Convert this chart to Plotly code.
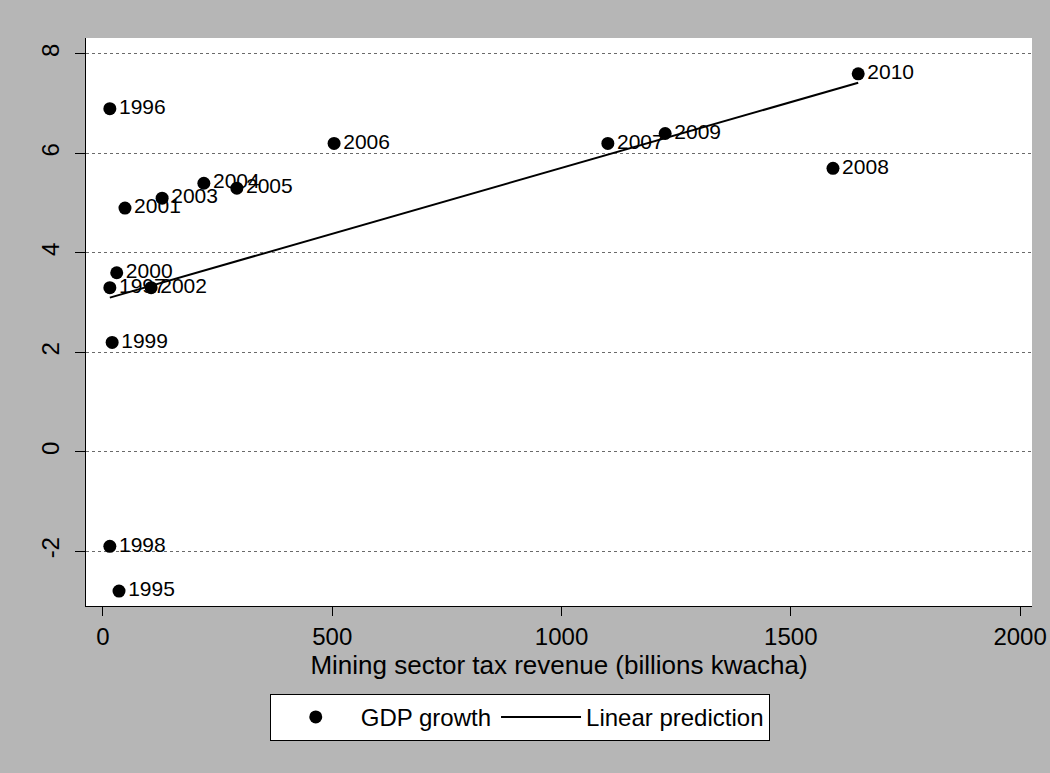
import plotly.graph_objects as go

years = ["1995", "1996", "1997", "1998", "1999", "2000", "2001", "2002",
         "2003", "2004", "2005", "2006", "2007", "2008", "2009", "2010"]
mining_tax = [35, 15, 15, 15, 20, 30, 48, 105, 129, 220, 292, 504, 1101, 1592, 1226, 1647]
gdp_growth = [-2.8, 6.9, 3.3, -1.9, 2.2, 3.6, 4.9, 3.3, 5.1, 5.4, 5.3, 6.2, 6.2, 5.7, 6.4, 7.6]

fit_x = [15, 1647]
fit_y = [3.10, 7.42]

x_ticks = [0, 500, 1000, 1500, 2000]
y_ticks = [-2, 0, 2, 4, 6, 8]
y_ticktext = ["-2", "0", "2", "4", "6", "8"]

FONT = "Liberation Sans, Arial, sans-serif"

fig = go.Figure()
fig.add_trace(go.Scatter(
    x=mining_tax, y=gdp_growth, mode="markers+text", text=years,
    textposition="middle right", textfont=dict(size=21, color="black", family=FONT),
    marker=dict(size=13, color="black"), name="GDP growth", cliponaxis=False,
))
fig.add_trace(go.Scatter(
    x=fit_x, y=fit_y, mode="lines", line=dict(color="black", width=2),
    name="Linear prediction",
))

fig.update_layout(
    width=1050, height=773,
    paper_bgcolor="#b6b6b6", plot_bgcolor="white",
    margin=dict(l=86, r=18, t=38, b=167, autoexpand=False),
    font=dict(family=FONT, size=23, color="black"),
    showlegend=True,
    legend=dict(
        orientation="h", xref="container", yref="container",
        x=0.495, xanchor="center", y=0.072, yanchor="middle",
        bgcolor="white", bordercolor="black", borderwidth=1,
        font=dict(size=24), itemwidth=80,
    ),
    xaxis=dict(
        range=[-37, 2026], tickvals=x_ticks, showgrid=False, zeroline=False,
        showline=True, linecolor="black", linewidth=1,
        ticks="outside", ticklen=9, tickcolor="black",
        tickfont=dict(size=24),
        title=dict(text="Mining sector tax revenue (billions kwacha)", font=dict(size=26), standoff=0),
    ),
    yaxis=dict(
        range=[-3.1, 8.32], tickvals=y_ticks, ticktext=y_ticktext, tickangle=-90,
        showgrid=True, gridcolor="#6a6a6a", griddash="dot", gridwidth=1,
        zeroline=False, showline=True, linecolor="black", linewidth=1,
        ticks="outside", ticklen=10, tickcolor="black",
        tickfont=dict(size=24), ticklabelstandoff=6,
    ),
)

fig.write_html("out.html", config={"displayModeBar": False},
               post_script="document.body.style.margin='0';")
